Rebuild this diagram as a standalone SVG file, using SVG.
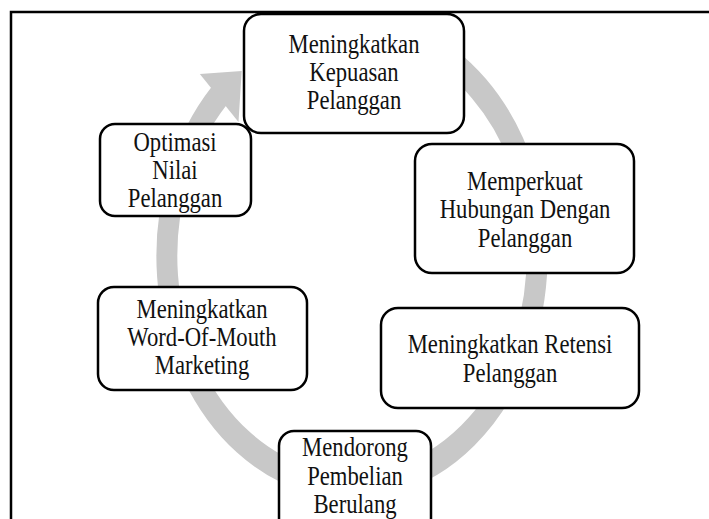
<svg xmlns="http://www.w3.org/2000/svg" width="709" height="519" viewBox="0 0 709 519">
<style>
.frame{fill:none;stroke:#000;stroke-width:2.5}
.box{fill:#fff;stroke:#000;stroke-width:2.5}
.lbl{font-family:"Liberation Serif","Times New Roman",serif;font-size:27px;fill:#111;text-anchor:middle}
.band{fill:none;stroke:#c8c8c8;stroke-width:26}
.head{fill:#c8c8c8}
</style>
<rect width="709" height="519" fill="#fff"/>
<path class="frame" d="M11 519 V12 H709"/>
<g id="connectors" transform="translate(352,256) scale(0.805,1)">
  <path class="band" d="M 78.7 -216.1 A 230 230 0 1 1 -165.4 -159.8"/>
  <path class="head" d="M -189 -182 L -137 -185 L -141 -134 Z"/>
</g>
<g id="n1">
  <rect class="box" x="244" y="14" width="220" height="119" rx="17"/>
  <text class="lbl" transform="translate(354,53) scale(0.84,1)">Meningkatkan</text>
  <text class="lbl" transform="translate(354,81) scale(0.84,1)">Kepuasan</text>
  <text class="lbl" transform="translate(354,109) scale(0.84,1)">Pelanggan</text>
</g>
<g id="n6">
  <rect class="box" x="100" y="124" width="151" height="92" rx="15"/>
  <text class="lbl" transform="translate(175,151) scale(0.84,1)">Optimasi</text>
  <text class="lbl" transform="translate(175,179) scale(0.84,1)">Nilai</text>
  <text class="lbl" transform="translate(175,207) scale(0.84,1)">Pelanggan</text>
</g>
<g id="n2">
  <rect class="box" x="415" y="144" width="219" height="129" rx="17"/>
  <text class="lbl" transform="translate(525,190) scale(0.84,1)">Memperkuat</text>
  <text class="lbl" transform="translate(525,218) scale(0.84,1)">Hubungan Dengan</text>
  <text class="lbl" transform="translate(525,247) scale(0.84,1)">Pelanggan</text>
</g>
<g id="n5">
  <rect class="box" x="98" y="287" width="209" height="103" rx="16"/>
  <text class="lbl" transform="translate(202,318) scale(0.84,1)">Meningkatkan</text>
  <text class="lbl" transform="translate(202,346) scale(0.84,1)">Word-Of-Mouth</text>
  <text class="lbl" transform="translate(202,374) scale(0.84,1)">Marketing</text>
</g>
<g id="n3">
  <rect class="box" x="381" y="308" width="258" height="100" rx="17"/>
  <text class="lbl" transform="translate(510,353) scale(0.84,1)">Meningkatkan Retensi</text>
  <text class="lbl" transform="translate(510,382) scale(0.84,1)">Pelanggan</text>
</g>
<g id="n4">
  <rect class="box" x="279" y="431" width="152" height="110" rx="15"/>
  <text class="lbl" transform="translate(355,456) scale(0.84,1)">Mendorong</text>
  <text class="lbl" transform="translate(355,485) scale(0.84,1)">Pembelian</text>
  <text class="lbl" transform="translate(355,513) scale(0.84,1)">Berulang</text>
</g>
</svg>
